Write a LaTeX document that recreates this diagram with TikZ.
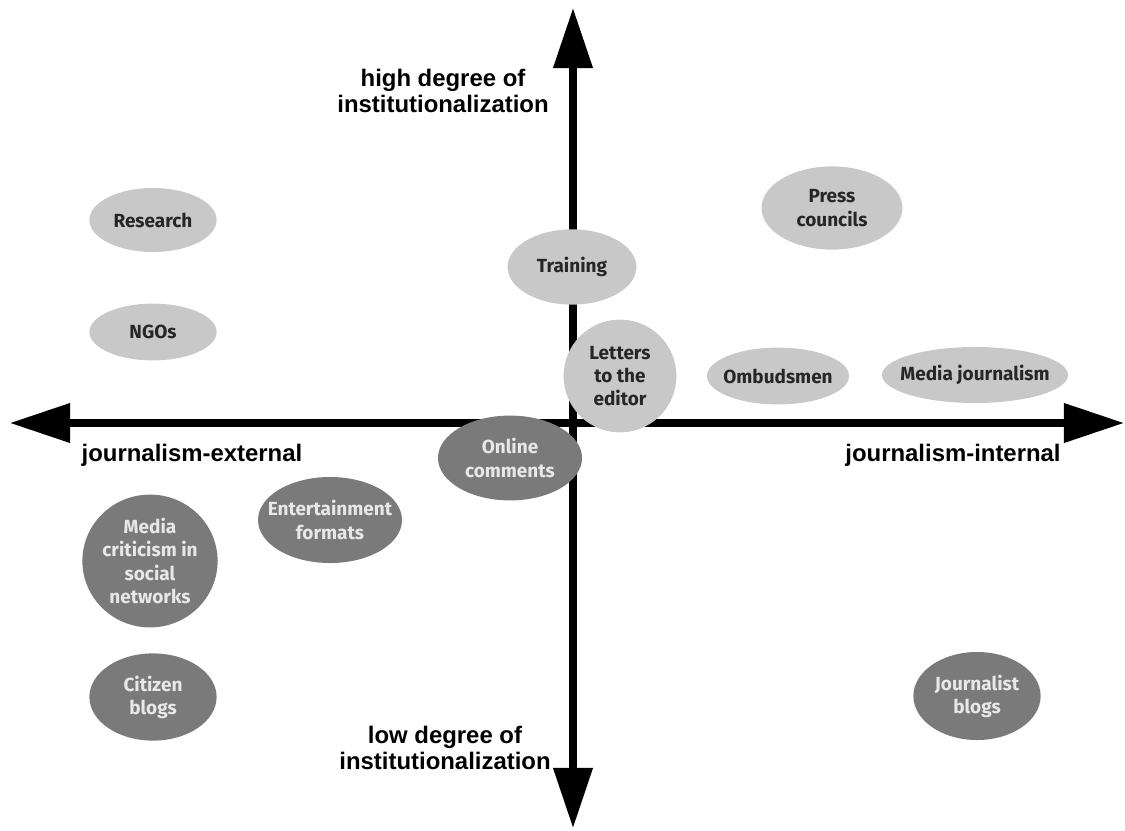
\documentclass[tikz,border=0pt]{standalone}
\usepackage{fontspec}
\setmainfont{Liberation Sans}
\newfontfamily\ovalfont{Fira Sans}
\usepackage{tikz}
\usetikzlibrary{shapes.geometric, arrows.meta}
\definecolor{ovallight}{RGB}{200,200,200}
\definecolor{ovaldark}{RGB}{122,122,122}
\definecolor{textdark}{RGB}{38,38,38}
\definecolor{textlight}{RGB}{232,232,232}
\tikzset{
  oval/.style={ellipse, inner xsep=-0.9cm, inner ysep=-0.45cm, align=center,
    font=\ovalfont\bfseries\fontsize{13.5}{16.5}\selectfont},
  lightoval/.style={oval, fill=ovallight, text=textdark},
  darkoval/.style={oval, fill=ovaldark, text=textlight},
  axis/.style={{Triangle[length=1.5cm, width=0.95cm]}-{Triangle[length=1.5cm, width=0.95cm]},
    line width=5pt},
  axislabel/.style={align=center, font=\bfseries\fontsize{17}{18.5}\selectfont},
}
\begin{document}
\begin{tikzpicture}[x=0.025cm, y=-0.025cm]
  \useasboundingbox (0,0) rectangle (1125,830);
  \coordinate (west) at (10,423);
  \coordinate (east) at (1124,423);
  \coordinate (north) at (573,8);
  \coordinate (south) at (573,828);
  \draw[axis] (west) -- (east);
  \draw[axis] (north) -- (south);
  \node[axislabel] (high) at (443,91) {high degree of\\institutionalization};
  \node[axislabel] (low) at (445,748) {low degree of\\institutionalization};
  \node[axislabel] (external) at (192,455) {journalism-external};
  \node[axislabel] (internal) at (953,455) {journalism-internal};
  \node[lightoval, minimum width=3.18cm, minimum height=1.6cm]
    (research) at (153,220) {Research};
  \node[lightoval, minimum width=3.18cm, minimum height=1.42cm]
    (ngos) at (153,332) {NGOs};
  \node[lightoval, minimum width=3.22cm, minimum height=1.88cm]
    (training) at (572,267) {Training};
  \node[lightoval, minimum width=3.52cm, minimum height=2.08cm]
    (press) at (832,208) {Press\\councils};
  \node[lightoval, minimum width=2.82cm, minimum height=2.82cm]
    (letters) at (620,376) {Letters\\to the\\editor};
  \node[lightoval, minimum width=3.55cm, minimum height=1.42cm]
    (ombudsmen) at (778,376) {Ombudsmen};
  \node[lightoval, minimum width=4.65cm, minimum height=1.4cm]
    (mediajour) at (975,375) {Media journalism};
  \node[darkoval, minimum width=3.6cm, minimum height=2.12cm]
    (online) at (510,458) {Online\\comments};
  \node[darkoval, minimum width=3.6cm, minimum height=2.15cm]
    (entertain) at (330,520) {Entertainment\\formats};
  \node[darkoval, minimum width=3.38cm, minimum height=3.32cm]
    (criticism) at (150,561) {Media\\criticism in\\social\\networks};
  \node[darkoval, minimum width=3.18cm, minimum height=2.18cm]
    (citizen) at (153,697) {Citizen\\blogs};
  \node[darkoval, minimum width=3.18cm, minimum height=2.2cm]
    (jourblogs) at (977,696) {Journalist\\blogs};
\end{tikzpicture}
\end{document}
